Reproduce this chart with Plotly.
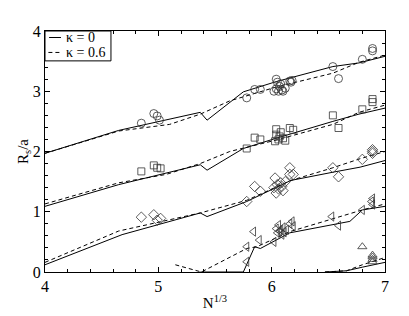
import plotly.graph_objects as go

# ---- data ----
g1_solid_x = [4.0, 4.65, 5.37, 5.43, 5.75, 6.04, 6.54, 6.77, 7.0]
g1_solid_y = [1.97, 2.35, 2.65, 2.52, 2.99, 3.16, 3.41, 3.47, 3.58]
g1_dash_x = [4.0, 4.65, 5.1, 5.37, 5.63, 6.04, 6.54, 6.77, 7.0]
g1_dash_y = [1.97, 2.34, 2.45, 2.62, 2.84, 3.07, 3.30, 3.48, 3.60]

g2_solid_x = [4.0, 4.65, 5.37, 5.43, 5.75, 6.04, 6.54, 6.77, 7.0]
g2_solid_y = [1.09, 1.45, 1.78, 1.69, 2.05, 2.22, 2.50, 2.62, 2.72]
g2_dash_x = [4.0, 4.65, 5.07, 5.37, 5.63, 6.04, 6.54, 6.77, 7.0]
g2_dash_y = [1.13, 1.48, 1.62, 1.80, 2.00, 2.19, 2.45, 2.65, 2.77]

g3_solid_x = [4.0, 4.68, 5.37, 5.43, 5.78, 6.17, 6.55, 6.78, 7.0]
g3_solid_y = [0.12, 0.62, 0.98, 0.92, 1.17, 1.52, 1.66, 1.74, 1.85]
g3_dash_x = [4.0, 4.65, 5.37, 5.78, 6.17, 6.54, 6.78, 7.0]
g3_dash_y = [0.16, 0.68, 0.98, 1.19, 1.52, 1.73, 1.88, 2.0]

g4_solid_x = [5.37, 5.75, 5.85, 5.90, 6.16, 6.69, 6.80, 7.0]
g4_solid_y = [0.0, 0.0, 0.42, 0.39, 0.65, 0.84, 1.03, 1.09]
g4_dash_x = [5.15, 5.38, 5.78, 5.87, 6.16, 6.54, 6.80, 7.0]
g4_dash_y = [0.12, 0.0, 0.39, 0.42, 0.67, 0.89, 1.03, 1.13]

g5_solid_x = [6.47, 6.66, 6.80, 7.0]
g5_solid_y = [0.0, 0.02, 0.08, 0.16]
g5_dash_x = [6.47, 6.66, 6.80, 7.0]
g5_dash_y = [0.0, 0.02, 0.12, 0.24]

circ_x = [4.85, 4.96, 4.99, 5.01, 5.78, 5.85, 5.90, 6.02, 6.04, 6.04, 6.05, 6.06, 6.07,
          6.08, 6.09, 6.10, 6.12, 6.16, 6.17, 6.18, 6.54, 6.59, 6.80, 6.89, 6.89]
circ_y = [2.47, 2.63, 2.59, 2.52, 2.89, 3.03, 3.03, 3.00, 3.20, 3.04, 3.15, 3.00, 3.08,
          3.12, 3.02, 3.00, 3.05, 3.17, 3.15, 3.18, 3.41, 3.21, 3.53, 3.71, 3.67]

sq_x = [4.85, 4.96, 4.99, 5.02, 5.78, 5.85, 5.90, 6.03, 6.04, 6.04, 6.06, 6.07, 6.08,
        6.10, 6.12, 6.16, 6.19, 6.54, 6.59, 6.80, 6.89, 6.89]
sq_y = [1.67, 1.77, 1.73, 1.72, 2.05, 2.23, 2.20, 2.17, 2.37, 2.28, 2.20, 2.25, 2.32,
        2.22, 2.18, 2.39, 2.36, 2.60, 2.39, 2.70, 2.87, 2.82]

dia_x = [4.85, 4.96, 4.99, 5.02, 5.78, 5.85, 5.90, 6.02, 6.03, 6.04, 6.05, 6.06, 6.08,
         6.09, 6.10, 6.12, 6.16, 6.16, 6.19, 6.54, 6.59, 6.80, 6.89, 6.89, 6.89]
dia_y = [0.91, 0.95, 0.86, 0.89, 1.17, 1.42, 1.34, 1.40, 1.56, 1.31, 1.45, 1.38, 1.48,
         1.42, 1.35, 1.50, 1.73, 1.62, 1.62, 1.73, 1.58, 1.87, 2.03, 2.00, 1.97]

tri_x = [5.78, 5.78, 5.84, 5.89, 6.02, 6.04, 6.05, 6.06, 6.07, 6.08, 6.09, 6.10, 6.11,
         6.13, 6.16, 6.18, 6.19, 6.53, 6.59, 6.80, 6.88, 6.89, 6.89]
tri_y = [0.17, 0.42, 0.67, 0.53, 0.50, 0.72, 0.65, 0.78, 0.68, 0.70, 0.62, 0.74, 0.66,
         0.70, 0.80, 0.84, 0.76, 0.92, 0.77, 1.03, 1.17, 1.22, 1.12]

up_x = [6.80, 6.89, 6.89, 6.89, 6.89]
up_y = [0.42, 0.17, 0.21, 0.25, 0.28]

legend_names = ["κ = 0", "κ = 0.6"]

FONT = "Liberation Serif, Times New Roman, serif"
DASH = "4px,3px"

fig = go.Figure()

solids = [(g1_solid_x, g1_solid_y), (g2_solid_x, g2_solid_y), (g3_solid_x, g3_solid_y),
          (g4_solid_x, g4_solid_y), (g5_solid_x, g5_solid_y)]
dashes = [(g1_dash_x, g1_dash_y), (g2_dash_x, g2_dash_y), (g3_dash_x, g3_dash_y),
          (g4_dash_x, g4_dash_y), (g5_dash_x, g5_dash_y)]

for xs, ys in solids:
    fig.add_trace(go.Scatter(x=xs, y=ys, mode="lines", line=dict(color="black", width=1),
                             name=legend_names[0], showlegend=False))
for xs, ys in dashes:
    fig.add_trace(go.Scatter(x=xs, y=ys, mode="lines",
                             line=dict(color="black", width=1, dash=DASH),
                             name=legend_names[1], showlegend=False))

marker_sets = [
    (circ_x, circ_y, "circle-open", 8),
    (sq_x, sq_y, "square-open", 7),
    (dia_x, dia_y, "diamond-open", 8),
    (tri_x, tri_y, "triangle-left-open", 8),
    (up_x, up_y, "triangle-up-open", 8),
]
for xs, ys, sym, sz in marker_sets:
    fig.add_trace(go.Scatter(x=xs, y=ys, mode="markers", showlegend=False,
                             marker=dict(symbol=sym, size=sz, color="#333333",
                                         line=dict(width=0.8, color="#333333"))))

axis_common = dict(
    showgrid=False, zeroline=False, showline=True, linecolor="black", linewidth=1,
    mirror="ticks", ticks="inside", ticklen=5, tickwidth=1, tickcolor="black",
    tickfont=dict(family=FONT, size=16, color="black"),
    minor=dict(ticks="inside", ticklen=3, tickwidth=1, tickcolor="black", showgrid=False),
    automargin=False,
)

fig.update_xaxes(range=[4, 7], dtick=1, tick0=4, **axis_common,
                 title=dict(text="N<sup>1/3</sup>", font=dict(family=FONT, size=15, color="black"),
                            standoff=3))
fig.update_yaxes(range=[0, 4], dtick=1, tick0=0, **axis_common,
                 title=dict(text="R<sub>s</sub>/a", font=dict(family=FONT, size=15, color="black"),
                            standoff=0))

# ---- hand-built compact legend (paper coordinates of the plot area) ----
fig.add_shape(type="rect", xref="paper", yref="paper", x0=0, x1=0.194, y0=0.876, y1=1,
              line=dict(color="black", width=1), fillcolor="white", layer="above")
fig.add_shape(type="line", xref="paper", yref="paper", x0=0.012, x1=0.047, y0=0.973, y1=0.973,
              line=dict(color="black", width=1), layer="above")
fig.add_shape(type="line", xref="paper", yref="paper", x0=0.010, x1=0.050, y0=0.911, y1=0.911,
              line=dict(color="black", width=1, dash=DASH), layer="above")
fig.add_annotation(xref="paper", yref="paper", x=0.060, y=0.975, text=legend_names[0],
                   showarrow=False, xanchor="left", yanchor="middle", borderpad=0,
                   font=dict(family=FONT, size=14, color="black"))
fig.add_annotation(xref="paper", yref="paper", x=0.060, y=0.909, text=legend_names[1],
                   showarrow=False, xanchor="left", yanchor="middle", borderpad=0,
                   font=dict(family=FONT, size=14, color="black"))

# page body adds an 8px offset; compensate so the plot area lands where the reference has it
fig.update_layout(
    width=401, height=308,
    margin=dict(l=37, r=24, t=23, b=44),
    paper_bgcolor="white", plot_bgcolor="white",
    showlegend=False,
)

fig.write_html("out.html")
